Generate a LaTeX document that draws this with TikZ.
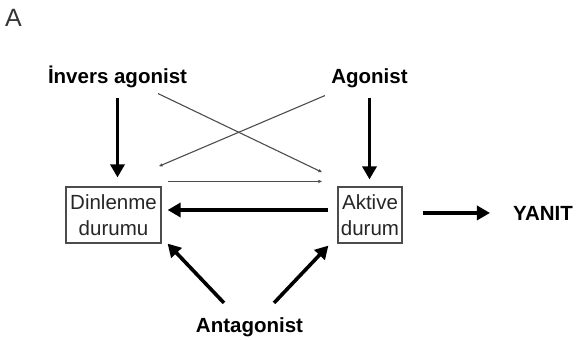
\documentclass[tikz,border=0pt]{standalone}
\usepackage{fontspec}
\setmainfont{Liberation Sans}
\usepackage{tikz}
\usepackage{xcolor}
\usetikzlibrary{arrows.meta}

\tikzset{
  agent/.style={inner sep=0pt, font=\fontsize{20.5}{24}\selectfont\bfseries},
  statebox/.style={draw=black!70, line width=1.2pt, text=black!85, align=center,
    inner sep=0pt, font=\fontsize{20.5}{26}\selectfont},
  strong/.style={line width=3.6pt, -{Triangle[length=13pt,width=14pt]}},
  weak/.style={line width=1.1pt, draw=black!70, -{Latex[length=4pt,width=3.5pt]}}
}

\begin{document}
\begin{tikzpicture}[x=1pt,y=-1pt]
%		    \draw[help lines] (0,0) grid (576,340);
			\useasboundingbox (0,0) rectangle (576,340);
			\node[text=black!80, inner sep=0pt, font=\fontsize{25}{30}\selectfont] (panel) at (13.5,18) {A};
			\node[agent, anchor=base] (inverse) at (117.5,83) {İnvers agonist};
			\node[agent, anchor=base] (agonist) at (369.5,83) {Agonist};
			\node[agent, anchor=base] (antagonist) at (249.5,332) {Antagonist};
			\node[agent, anchor=base] (response) at (543,220) {YANIT};
			\node[statebox, minimum width=95pt, minimum height=56pt] (resting) at (113.5,215) {Dinlenme\\durumu};
			\node[statebox, minimum width=64pt, minimum height=56pt] (active) at (370,215) {Aktive\\durum};
			\draw[strong, shorten <=10pt, shorten >=9pt] (inverse.south) -- (inverse.south |- resting.north);
			\draw[strong, shorten <=10pt, shorten >=7pt] (agonist.south) -- (agonist.south |- active.north);
			\draw[weak] ([xshift=40.5pt,yshift=-6pt]inverse.south) -- ([xshift=-15pt,yshift=14pt]active.north west);
			\draw[weak] ([xshift=-44.5pt,yshift=-8pt]agonist.south) -- ([xshift=-3pt,yshift=20pt]resting.north east);
			\draw[weak] ([xshift=6pt,yshift=5pt]resting.north east) -- ([xshift=-15pt,yshift=5pt]active.north west);
			\draw[strong, shorten <=9pt, shorten >=6pt] ([yshift=5pt]active.west) -- ([yshift=5pt]resting.east);
			\draw[strong, shorten <=20pt, shorten >=23pt] (response.west -| active.east) -- (response.west);
			\draw[strong] ([xshift=-25.5pt,yshift=14pt]antagonist.north) -- ([xshift=6pt]resting.south east);
			\draw[strong] ([xshift=24.5pt,yshift=14pt]antagonist.north) -- ([xshift=-9pt,yshift=-2pt]active.south west);
		\end{tikzpicture}
\end{document}
